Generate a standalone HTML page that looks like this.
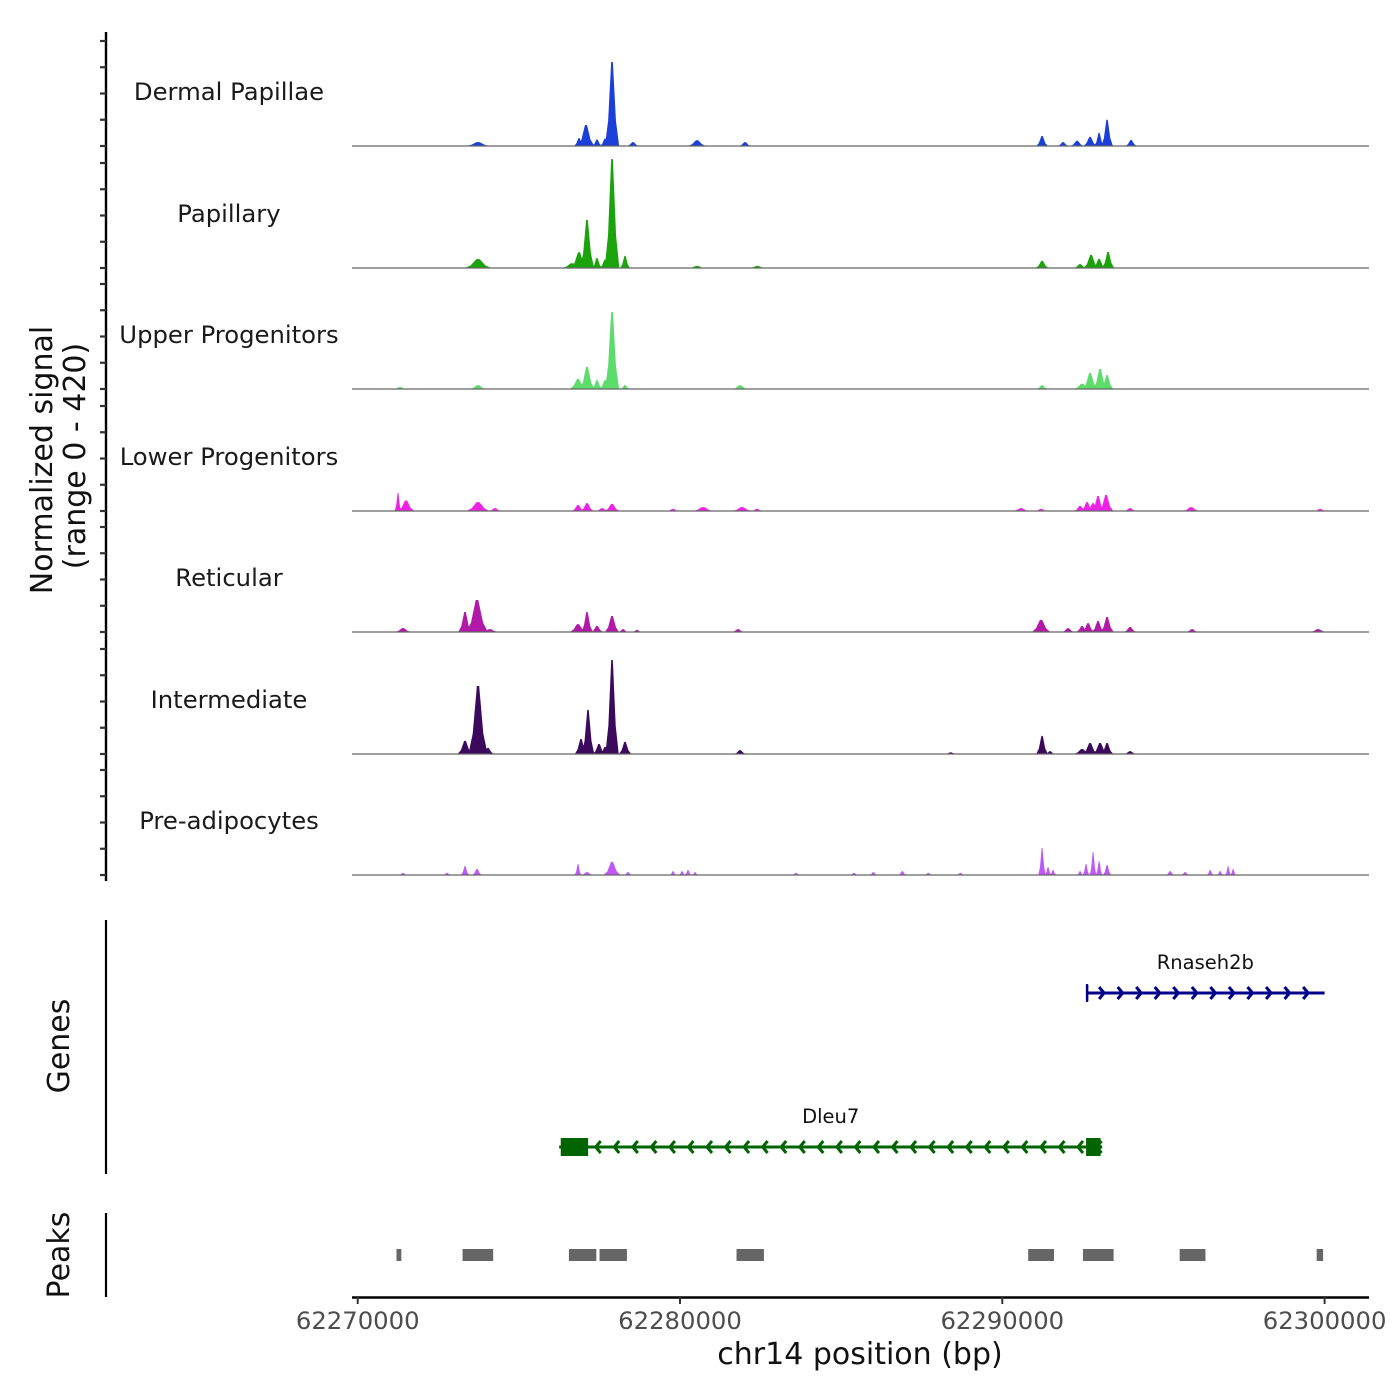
<!DOCTYPE html>
<html><head><meta charset="utf-8"><style>
body{margin:0;background:#fff;}
svg{display:block;font-family:"DejaVu Sans","Liberation Sans",sans-serif;}
</style></head><body>
<svg id="chart" width="1400" height="1400" viewBox="0 0 1400 1400">
<g id="tracks"></g>
<g id="leftaxis"></g>
<text transform="translate(52,460) rotate(-90)" text-anchor="middle" font-size="30" fill="#111">Normalized signal</text>
<text transform="translate(85,456) rotate(-90)" text-anchor="middle" font-size="30" fill="#111">(range 0 - 420)</text>
<line x1="106" y1="920" x2="106" y2="1174" stroke="#000" stroke-width="2.2"/>
<text transform="translate(69,1046) rotate(-90)" text-anchor="middle" font-size="30" fill="#111">Genes</text>
<line x1="106" y1="1213" x2="106" y2="1297" stroke="#000" stroke-width="2.2"/>
<text transform="translate(69,1255) rotate(-90)" text-anchor="middle" font-size="30" fill="#111">Peaks</text>
<g id="genes"></g>
<g id="peaks"></g>
<g id="xaxis"></g>
<text x="860" y="1364" text-anchor="middle" font-size="30" fill="#111">chr14 position (bp)</text>
</svg>
<script>
const trackNames = ["Dermal Papillae","Papillary","Upper Progenitors","Lower Progenitors","Reticular","Intermediate","Pre-adipocytes"];
const trackColors = ["#1b3fd9","#1ba30b","#5bdc6b","#ee22e4","#b01aa6","#3b0a5d","#bf58f6"];
// [position bp, signal, half-width bp]
const dermal = [[62273733,15,300],[62276866,30,120],[62277083,80,200],[62277425,25,120],[62277673,28,120],[62277891,320,170],[62278542,15,150],[62280529,22,220],[62282018,15,150],[62291234,38,140],[62291886,15,140],[62292320,20,160],[62292723,35,160],[62293003,50,120],[62293251,100,140],[62293996,23,140]];
const papillary = [[62273733,34,320],[62276649,18,250],[62276866,60,200],[62277115,183,170],[62277425,38,120],[62277673,32,130],[62277891,415,175],[62278294,46,120],[62280529,8,200],[62282400,8,200],[62291234,27,160],[62292413,15,160],[62292754,50,180],[62293003,35,150],[62293282,61,150]];
const upper = [[62271313,8,150],[62273733,15,200],[62276835,38,200],[62277115,84,180],[62277425,34,130],[62277673,34,130],[62277891,293,170],[62278294,15,120],[62281863,15,180],[62291234,15,140],[62292475,20,200],[62292723,61,180],[62293034,76,170],[62293251,53,150]];
const lower = [[62271250,69,80],[62271500,40,200],[62273733,34,280],[62274260,11,150],[62276835,23,150],[62277115,30,160],[62277580,11,150],[62277891,27,180],[62279784,8,150],[62280715,15,250],[62281925,15,250],[62282390,8,150],[62290583,11,200],[62291203,8,150],[62292413,19,150],[62292630,34,150],[62292816,30,150],[62292971,57,150],[62293220,61,170],[62293965,11,150],[62295858,15,200],[62299862,8,150]];
const reticular = [[62271406,15,200],[62273330,76,160],[62273702,122,260],[62274105,11,200],[62276835,30,200],[62277115,76,140],[62277425,23,150],[62277891,61,170],[62278232,11,120],[62278666,8,120],[62281801,11,150],[62291203,46,220],[62292041,15,150],[62292475,23,150],[62292661,34,150],[62292971,42,150],[62293251,57,160],[62293965,19,150],[62295889,11,150],[62299800,11,200]];
const intermediate = [[62273330,50,180],[62273733,259,230],[62274043,23,150],[62276928,57,150],[62277146,168,150],[62277487,38,150],[62277673,27,120],[62277891,358,160],[62278294,46,150],[62281863,15,150],[62288400,6,150],[62291234,69,140],[62291482,11,120],[62292475,19,200],[62292723,42,180],[62293034,42,180],[62293251,42,150],[62293965,11,150]];
const preadip = [[62271406,8,100],[62272771,8,100],[62273330,34,100],[62273702,23,120],[62276835,42,80],[62277115,11,150],[62277891,50,200],[62278387,11,100],[62279784,15,80],[62280063,15,80],[62280249,19,80],[62280467,11,80],[62283600,8,100],[62285400,8,100],[62286000,11,100],[62286900,15,100],[62287700,8,100],[62288700,8,100],[62291234,103,90],[62291420,30,80],[62291575,19,80],[62292413,15,80],[62292599,42,80],[62292816,88,80],[62293003,53,80],[62293251,38,100],[62295207,15,100],[62295672,11,100],[62296449,19,80],[62296759,15,80],[62297007,34,70],[62297162,23,70]];
const trackData = [dermal,papillary,upper,lower,reticular,intermediate,preadip];
const signalTicks = [0,100,200,300,400];
const xTicks = [62270000,62280000,62290000,62300000];
const peakStarts = [62271250,62273300,62276600,62277550,62281800,62290850,62292550,62295550,62299800];
const peakEnds   = [62271400,62274250,62277450,62278400,62282650,62291650,62293500,62296350,62300000];
const geneNames = ["Rnaseh2b","Dleu7"];
const geneStarts = [62292600,62276250];
const geneEnds = [62300000,62293100];
const geneStrands = ["+","-"];
const exonStarts = [[62292600],[62276300,62292600]];
const exonEnds = [[62292650],[62277150,62293050]];

const NS='http://www.w3.org/2000/svg';
const X0=357.7, PXBP=322.3/10000, START=62270000;
const xs = bp => X0 + (bp-START)*PXBP;
const ys = v => v*0.2625;
const baselines=[146,268,389,511,632,754,875];
function mk(tag, attrs, parent){const e=document.createElementNS(NS,tag);for(const k in attrs)e.setAttribute(k,attrs[k]);parent.appendChild(e);return e;}

const tracks=document.getElementById('tracks');
trackData.forEach((arr,i)=>{
  const g=mk('g',{},tracks);
  
  
  const b=baselines[i];
  const lab=mk('text',{x:229,y:b-46,'text-anchor':'middle','font-size':24.3,fill:'#1a1a1a'},g);
  lab.textContent=trackNames[i];
  
  
  arr.forEach(p=>{
    const c=xs(p[0]), w=Math.max(2.5,p[2]*PXBP*1.3), h=ys(p[1]);
    const poly=mk('path',{d:`M${c-w},${b} L${c-w*0.55},${b-h*0.3} L${c-w*0.12},${b-h} L${c+w*0.12},${b-h} L${c+w*0.55},${b-h*0.3} L${c+w},${b} Z`,fill:trackColors[i]},g);
    
    
  });
  const bl=mk('line',{x1:352,x2:1369,y1:b,y2:b,stroke:'#666','stroke-width':1.2},g);
  
  
});

const la=document.getElementById('leftaxis');
mk('line',{x1:106,y1:32,x2:106,y2:881,stroke:'#000','stroke-width':2.4},la);
baselines.forEach(b=>{signalTicks.forEach(t=>{
  const tk=mk('line',{x1:100,x2:106,y1:b-ys(t),y2:b-ys(t),stroke:'#333','stroke-width':2.2},la);
  
  
});});

const gg=document.getElementById('genes');
const geneY=[993,1147], geneColors=["#00008b","#006400"];
geneNames.forEach((n,i)=>{
  const g=mk('g',{},gg);
  
  
  const y=geneY[i], x1=xs(geneStarts[i]), x2=xs(geneEnds[i]), col=geneColors[i];
  mk('line',{x1:x1,x2:x2,y1:y,y2:y,stroke:col,'stroke-width':3},g);
  const t=mk('text',{x:(x1+x2)/2,y:y-24,'text-anchor':'middle','font-size':19.5,fill:'#111'},g);
  t.textContent=n;
  
  
  const step=18.55;
  for(let x=x1+18;x<=x2+1;x+=step){
    const d=geneStrands[i]==='+'?`M${x-5},${y-6} L${x},${y} L${x-5},${y+6}`:`M${x+5},${y-6} L${x},${y} L${x+5},${y+6}`;
    mk('path',{d:d,stroke:col,'stroke-width':3,fill:'none'},g);
  }
  if(geneStrands[i]==='+'){mk('line',{x1:x1+1,x2:x1+1,y1:y-8,y2:y+8,stroke:col,'stroke-width':2.5},g);}
  exonStarts[i].forEach((s,j)=>{
    const ex=mk('rect',{x:xs(s),y:y-9,width:Math.max(2,xs(exonEnds[i][j])-xs(s)),height:18,fill:col},g);
    
    
  });
});

const pk=document.getElementById('peaks');
peakStarts.forEach((s,i)=>{
  const r=mk('rect',{x:xs(s)-1.5,y:1249,width:xs(peakEnds[i])-xs(s),height:12,fill:'#666'},pk);
  
  
});

const xa=document.getElementById('xaxis');
mk('line',{x1:352,x2:1369,y1:1297.5,y2:1297.5,stroke:'#000','stroke-width':2.5},xa);
xTicks.forEach(t=>{
  const x=xs(t);
  mk('line',{x1:x,x2:x,y1:1297,y2:1304,stroke:'#333','stroke-width':2},xa);
  const l=mk('text',{x:x,y:1329,'text-anchor':'middle','font-size':24.3,fill:'#4d4d4d'},xa);
  l.textContent=t;
  
  
});
</script>
</body></html>
